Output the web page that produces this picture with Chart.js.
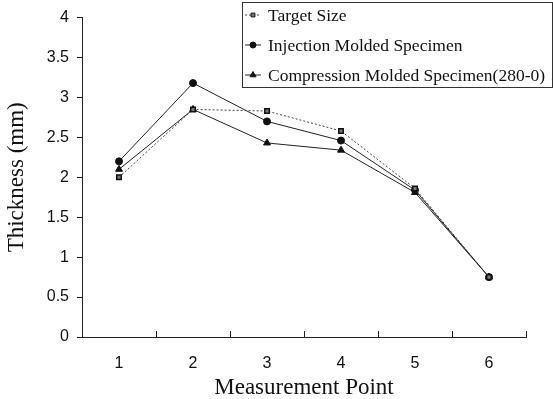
<!DOCTYPE html>
<html>
<head>
<meta charset="utf-8">
<script src="https://cdn.jsdelivr.net/npm/chart.js@4/dist/chart.umd.min.js"></script>
<style>
  html, body { margin: 0; padding: 0; background: #fff; }
  #wrap { width: 553px; height: 399px; }
</style>
</head>
<body>
<div id="wrap"><canvas id="thicknessChart"></canvas></div>
<script>
// measurement points along the specimen
const points = ['1', '2', '3', '4', '5', '6'];

// thickness (mm)
const targetSize = [2.0, 2.85, 2.83, 2.58, 1.86, 0.75];
const injectionMolded = [2.2, 3.18, 2.7, 2.46, 1.84, 0.75];
const compressionMolded = [2.1, 2.85, 2.43, 2.34, 1.81, 0.75];

const seriesNames = ['Target Size', 'Injection Molded Specimen', 'Compression Molded Specimen(280-0)'];
const yTicks = [0, 0.5, 1, 1.5, 2, 2.5, 3, 3.5, 4];

const serif = '"Liberation Serif", "Times New Roman", serif';
const sans = '"Liberation Sans", Arial, sans-serif';

/**
 * Draw small inward tick marks on the x axis, at category boundaries
 */
const innerTicks = {
    id: 'innerTicks',
    afterDatasetsDraw(chart) {
        const x = chart.scales.x;
        const ctx = chart.ctx;
        const half = (x.getPixelForValue(1) - x.getPixelForValue(0)) / 2;
        ctx.save();
        ctx.strokeStyle = '#222';
        ctx.lineWidth = 1;
        ctx.beginPath();
        for (let i = 0; i <= points.length; i++) {
            const px = Math.round(x.getPixelForValue(i) - half) + 0.5;
            ctx.moveTo(px, x.top);
            ctx.lineTo(px, x.top - 6);
        }
        ctx.stroke();
        ctx.restore();
    }
};

/**
 * Boxed legend in the top right corner
 */
const boxLegend = {
    id: 'boxLegend',
    afterDraw(chart) {
        const ctx = chart.ctx;
        const left = 242, top = 2, w = 310, h = 85;
        ctx.save();
        ctx.fillStyle = '#fff';
        ctx.fillRect(left, top, w, h);
        ctx.strokeStyle = '#333';
        ctx.lineWidth = 1;
        ctx.strokeRect(left + 0.5, top + 0.5, w, h);

        chart.data.datasets.forEach((ds, i) => {
            const y = top + 13 + i * 30;
            ctx.strokeStyle = ds.borderColor;
            ctx.lineWidth = 1;
            ctx.setLineDash(ds.borderDash || []);
            ctx.beginPath();
            ctx.moveTo(left + 3, y);
            ctx.lineTo(left + 19, y);
            ctx.stroke();
            ctx.setLineDash([]);

            ctx.fillStyle = ds.pointBackgroundColor;
            ctx.strokeStyle = ds.pointBorderColor;
            Chart.helpers.drawPoint(ctx, {
                pointStyle: ds.pointStyle,
                radius: ds.pointRadius - 0.5,
                borderWidth: ds.pointBorderWidth
            }, left + 11, y);

            ctx.fillStyle = '#111';
            ctx.font = '17.5px ' + serif;
            ctx.textBaseline = 'middle';
            ctx.fillText(ds.label, left + 26, y + 1);
        });
        ctx.restore();
    }
};

const ctx = document.getElementById('thicknessChart');

new Chart(ctx, {
    type: 'line',
    data: {
        labels: points,
        datasets: [
            {
                label: seriesNames[0],
                data: targetSize,
                borderColor: '#444',
                borderWidth: 1,
                borderDash: [2, 2],
                pointStyle: 'rect',
                pointRadius: 3.2,
                pointBorderWidth: 1.5,
                pointBackgroundColor: '#777',
                pointBorderColor: '#111'
            },
            {
                label: seriesNames[1],
                data: injectionMolded,
                borderColor: '#222',
                borderWidth: 1,
                pointStyle: 'circle',
                pointRadius: 3.5,
                pointBorderWidth: 1,
                pointBackgroundColor: '#111',
                pointBorderColor: '#111'
            },
            {
                label: seriesNames[2],
                data: compressionMolded,
                borderColor: '#222',
                borderWidth: 1,
                pointStyle: 'triangle',
                pointRadius: 4,
                pointBorderWidth: 1,
                pointBackgroundColor: '#111',
                pointBorderColor: '#111'
            }
        ]
    },
    options: {
        responsive: true,
        maintainAspectRatio: false,
        animation: false,
        layout: {
            padding: { left: 0, right: 27, top: 13, bottom: 0 }
        },
        plugins: {
            legend: { display: false },
            tooltip: { enabled: false }
        },
        scales: {
            x: {
                type: 'category',
                offset: true,
                afterFit: (scale) => { scale.height = 62; },
                grid: { display: true, drawOnChartArea: false, drawTicks: false },
                border: { color: '#222', width: 1 },
                ticks: {
                    color: '#111',
                    padding: 17,
                    font: { family: sans, size: 16 }
                },
                title: {
                    display: true,
                    text: 'Measurement Point',
                    color: '#111',
                    padding: { top: 0, bottom: 0 },
                    font: { family: serif, size: 23, lineHeight: 1 }
                }
            },
            y: {
                min: 0,
                max: 4,
                afterFit: (scale) => { scale.width = 82; },
                afterBuildTicks: (scale) => {
                    scale.ticks = yTicks.map(v => ({ value: v }));
                },
                grid: { drawOnChartArea: false, tickLength: 5, color: '#222' },
                border: { color: '#222', width: 1 },
                ticks: {
                    color: '#111',
                    padding: 8,
                    font: { family: sans, size: 16 },
                    callback: (value) => String(value)
                },
                title: {
                    display: true,
                    text: 'Thickness (mm)',
                    color: '#111',
                    padding: 5,
                    font: { family: serif, size: 23, lineHeight: 1 }
                }
            }
        }
    },
    plugins: [innerTicks, boxLegend]
});
</script>
</body>
</html>
